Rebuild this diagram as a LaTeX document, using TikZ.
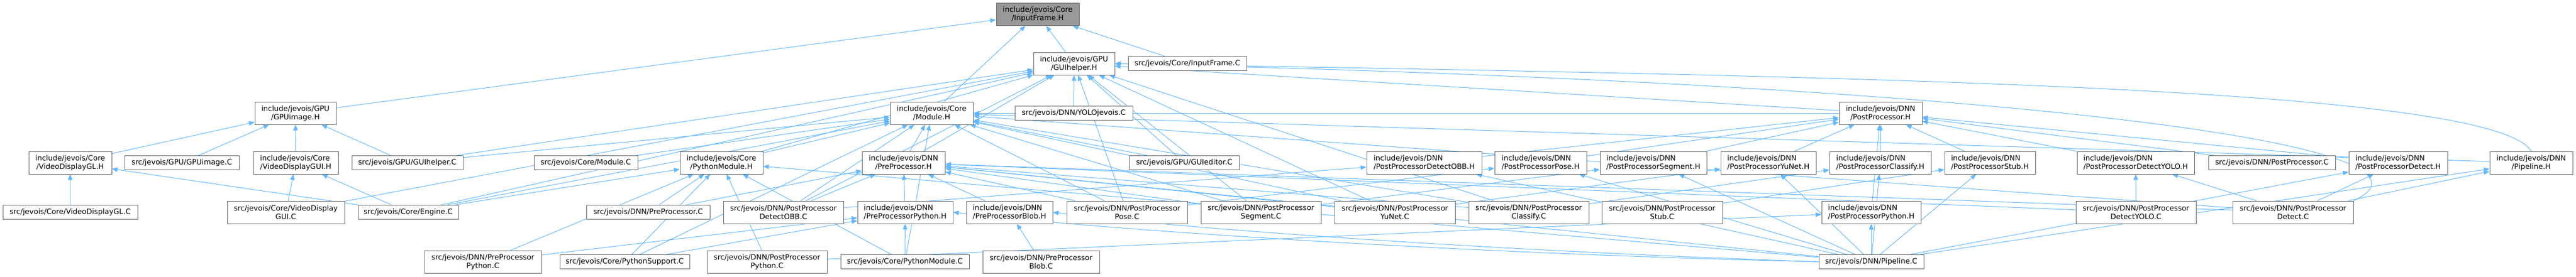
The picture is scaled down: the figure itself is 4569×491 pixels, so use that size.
\documentclass[tikz,border=0pt]{standalone}
\usepackage{fontspec}
\setmainfont{DejaVu Sans}
\usetikzlibrary{arrows.meta,backgrounds}
\definecolor{edgeblue}{HTML}{63B8FF}
\definecolor{boxline}{HTML}{666666}
\definecolor{rootfill}{HTML}{999999}

\begin{document}
\begin{tikzpicture}[x=1pt,y=-1pt,
  file/.style={draw=boxline,line width=1pt,fill=white,font=\fontsize{13}{15}\selectfont,
    align=center,inner xsep=4pt,inner ysep=2pt,minimum height=25pt},
  hdr/.style={file,minimum height=40pt},
  hdrl/.style={hdr,align=left},
  root/.style={hdr,fill=rootfill},
  dep/.style={draw=edgeblue,line width=1pt,-{Triangle[length=10pt,width=8pt]}}]
\useasboundingbox (0,0) rectangle (4569,491);

% Top file
\node[root,minimum width=147pt] (inframeH) at (1840.5,25.5) {include/jevois/Core\\/InputFrame.H};

% Second row
\node[hdr,minimum width=144pt] (guihelperH) at (1905,113) {include/jevois/GPU\\/GUIhelper.H};
\node[file,minimum width=210pt] (inframeC) at (2106,113) {src/jevois/Core/InputFrame.C};

% Third row
\node[hdr,minimum width=144pt] (gpuimageH) at (524,201) {include/jevois/GPU\\/GPUimage.H};
\node[hdr,minimum width=147pt] (moduleH) at (1652.5,201) {include/jevois/Core\\/Module.H};
\node[file,minimum width=209pt] (yoloC) at (1904.5,201) {src/jevois/DNN/YOLOjevois.C};
\node[hdr,minimum width=147pt] (postprocH) at (3335.5,201) {include/jevois/DNN\\/PostProcessor.H};

% Fourth row
\node[hdr,minimum width=147pt] (vdglH) at (124.5,289) {include/jevois/Core\\/VideoDisplayGL.H};
\node[file,minimum width=203pt] (gpuimageC) at (322.5,289) {src/jevois/GPU/GPUimage.C};
\node[hdrl,minimum width=151pt] (vdguiH) at (524.5,289) {include/jevois/Core\\/VideoDisplayGUI.H};
\node[file,minimum width=197pt] (guihelperC) at (722.5,289) {src/jevois/GPU/GUIhelper.C};
\node[file,minimum width=184pt] (moduleC) at (1039,289) {src/jevois/Core/Module.C};
\node[hdr,minimum width=147pt] (pymoduleH) at (1279.5,289) {include/jevois/Core\\/PythonModule.H};
\node[hdr,minimum width=147pt] (preprocH) at (1602.5,289) {include/jevois/DNN\\/PreProcessor.H};
\node[file,minimum width=195pt] (guieditorC) at (2100.5,289) {src/jevois/GPU/GUIeditor.C};
\node[hdrl,minimum width=204pt] (ppobbH) at (2526,289) {include/jevois/DNN\\/PostProcessorDetectOBB.H};
\node[hdrl,minimum width=163pt] (ppposeH) at (2732.5,289) {include/jevois/DNN\\/PostProcessorPose.H};
\node[hdrl,minimum width=189pt] (ppsegH) at (2932.5,289) {include/jevois/DNN\\/PostProcessorSegment.H};
\node[hdrl,minimum width=169pt] (ppyunetH) at (3136.5,289) {include/jevois/DNN\\/PostProcessorYuNet.H};
\node[hdrl,minimum width=180pt] (ppclassH) at (3335,289) {include/jevois/DNN\\/PostProcessorClassify.H};
\node[hdrl,minimum width=161pt] (ppstubH) at (3529.5,289) {include/jevois/DNN\\/PostProcessorStub.H};
\node[hdrl,minimum width=208pt] (ppyoloH) at (3788,289) {include/jevois/DNN\\/PostProcessorDetectYOLO.H};
\node[file,minimum width=225pt] (postprocC) at (4029.5,289) {src/jevois/DNN/PostProcessor.C};
\node[hdrl,minimum width=175pt] (ppdetH) at (4253.5,289) {include/jevois/DNN\\/PostProcessorDetect.H};
\node[hdr,minimum width=147pt] (pipelineH) at (4489.5,289) {include/jevois/DNN\\/Pipeline.H};

% Fifth row
\node[file,minimum width=239pt] (vdglC) at (124.5,377) {src/jevois/Core/VideoDisplayGL.C};
\node[hdr,minimum width=208pt] (vdguiC) at (507,377) {src/jevois/Core/VideoDisplay\\GUI.C};
\node[file,minimum width=178pt] (engineC) at (724,377) {src/jevois/Core/Engine.C};
\node[file,minimum width=219pt] (preprocC) at (1149.5,377) {src/jevois/DNN/PreProcessor.C};
\node[hdr,minimum width=213pt] (ppobbC) at (1389.5,377) {src/jevois/DNN/PostProcessor\\DetectOBB.C};
\node[hdrl,minimum width=169pt] (prepyH) at (1605.5,377) {include/jevois/DNN\\/PreProcessorPython.H};
\node[hdrl,minimum width=153pt] (preblobH) at (1790.5,377) {include/jevois/DNN\\/PreProcessorBlob.H};
\node[hdr,minimum width=214pt] (pposeC) at (1999,377) {src/jevois/DNN/PostProcessor\\Pose.C};
\node[hdr,minimum width=213pt] (ppsegC) at (2236.5,377) {src/jevois/DNN/PostProcessor\\Segment.C};
\node[hdr,minimum width=214pt] (ppyunetC) at (2474,377) {src/jevois/DNN/PostProcessor\\YuNet.C};
\node[hdr,minimum width=213pt] (ppclassC) at (2711.5,377) {src/jevois/DNN/PostProcessor\\Classify.C};
\node[hdr,minimum width=214pt] (ppstubC) at (2948,377) {src/jevois/DNN/PostProcessor\\Stub.C};
\node[hdrl,minimum width=176pt] (pppyH) at (3319,377) {include/jevois/DNN\\/PostProcessorPython.H};
\node[hdr,minimum width=213pt] (ppyoloC) at (3788.5,377) {src/jevois/DNN/PostProcessor\\DetectYOLO.C};
\node[hdr,minimum width=214pt] (ppdetC) at (4067,377) {src/jevois/DNN/PostProcessor\\Detect.C};

% Bottom row
\node[hdr,minimum width=207pt] (prepyC) at (856.5,465) {src/jevois/DNN/PreProcessor\\Python.C};
\node[file,minimum width=230pt] (pysupportC) at (1108,465) {src/jevois/Core/PythonSupport.C};
\node[hdr,minimum width=213pt] (pppyC) at (1360.5,465) {src/jevois/DNN/PostProcessor\\Python.C};
\node[file,minimum width=228pt] (pymoduleC) at (1605,465) {src/jevois/Core/PythonModule.C};
\node[hdr,minimum width=207pt] (preblobC) at (1846.5,465) {src/jevois/DNN/PreProcessor\\Blob.C};
\node[file,minimum width=186pt] (pipelineC) at (3319,465) {src/jevois/DNN/Pipeline.C};

% Include arrows
\begin{scope}[on background layer]
\foreach \s/\t in {gpuimageH/inframeH, guihelperH/inframeH, moduleH/inframeH, inframeC/inframeH,
  vdglH/gpuimageH, gpuimageC/gpuimageH, vdguiH/gpuimageH, guihelperC/gpuimageH,
  vdglC/vdglH, engineC/vdglH, vdguiC/vdguiH, engineC/vdguiH,
  guihelperC/guihelperH, vdguiC/guihelperH, engineC/guihelperH, pymoduleH/guihelperH,
  yoloC/guihelperH, preprocH/guihelperH, guieditorC/guihelperH, postprocH/guihelperH,
  pposeC/guihelperH, ppsegC/guihelperH, ppyunetC/guihelperH,
  ppclassC/guihelperH, ppobbC/guihelperH,
  guihelperC/moduleH, moduleC/moduleH, engineC/moduleH, pysupportC/moduleH,
  pymoduleC/moduleH, preprocH/moduleH, guieditorC/moduleH, postprocH/moduleH,
  pipelineH/moduleH, pposeC/moduleH, ppsegC/moduleH, ppclassC/moduleH,
  ppyunetC/moduleH, ppobbC/moduleH, ppdetC/moduleH, pymoduleH/moduleH,
  engineC/pymoduleH, preprocC/pymoduleH, prepyC/pymoduleH, pysupportC/pymoduleH,
  pppyC/pymoduleH, pymoduleC/pymoduleH, pipelineC/pymoduleH,
  preprocC/preprocH, ppobbC/preprocH, prepyH/preprocH, preblobH/preprocH,
  pposeC/preprocH, ppsegC/preprocH, ppyunetC/preprocH, ppclassC/preprocH,
  ppdetC/preprocH, ppyoloC/preprocH, pipelineC/preprocH,
  prepyC/prepyH, pysupportC/prepyH, pymoduleC/prepyH,
  preblobC/preblobH,
  ppobbH/postprocH, ppposeH/postprocH, ppsegH/postprocH, ppyunetH/postprocH,
  ppclassH/postprocH, ppstubH/postprocH, ppyoloH/postprocH, postprocC/postprocH,
  ppdetH/postprocH, pppyH/postprocH,
  ppobbC/ppobbH, pipelineC/ppobbH, pposeC/ppposeH, pipelineC/ppposeH,
  ppsegC/ppsegH, pipelineC/ppsegH, ppyunetC/ppyunetH, pipelineC/ppyunetH,
  ppclassC/ppclassH, pipelineC/ppclassH, ppstubC/ppstubH, pipelineC/ppstubH,
  pppyC/pppyH, pipelineC/pppyH, ppyoloC/ppyoloH, ppdetC/ppyoloH,
  ppdetC/ppdetH, pipelineC/ppdetH, pipelineC/pipelineH, ppdetC/pipelineH}
  \draw[dep] (\s) -- (\t);
% long routed arrows
\draw[dep] (pipelineH.north) .. controls (4420,150) and (3200,135) .. (guihelperH.east);
\draw[dep] (ppdetC.north east) .. controls (4380,260) and (3600,150) .. (guihelperH.east);
\draw[dep] (pipelineC.west) .. controls (2500,440) and (2000,395) .. (preblobH.east);
\draw[dep] (pipelineC.west) .. controls (2500,448) and (1900,402) .. (prepyH.east);
\end{scope}
\end{tikzpicture}
\end{document}
